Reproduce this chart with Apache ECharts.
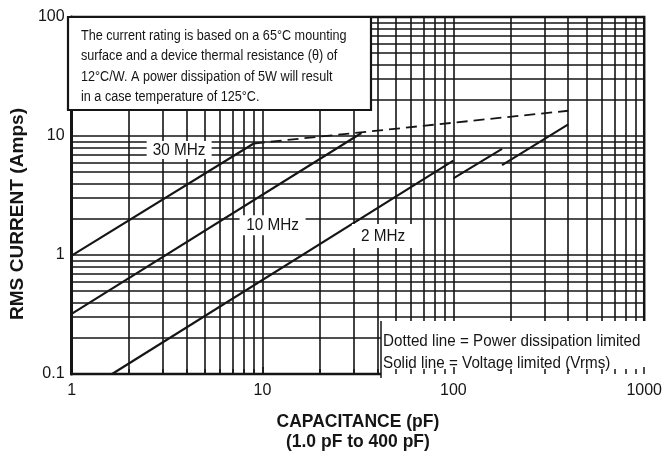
<!DOCTYPE html>
<html>
<head>
<meta charset="utf-8">
<script src="https://cdn.jsdelivr.net/npm/echarts@6/dist/echarts.min.js"></script>
<style>html,body{margin:0;padding:0;background:#fff;}#c{width:665px;height:457px;}</style>
</head>
<body>
<div id="c"></div>
<script>
// ---- data ----
const xRange = [1, 1000];          // capacitance, pF
const yRange = [0.1, 100];         // RMS current, A
const mhz30 = [[1, 0.99], [9, 8.65]];
const powerLimit = [[9, 8.65], [400, 16.3]];
const mhz10 = [[1, 0.32], [33, 10.6]];
const mhz2a = [[1.63, 0.1], [100, 6.2]];
const mhz2b = [[100, 4.4], [180, 7.8]];
const mhz2c = [[180, 5.7], [400, 12.5]];
const curveLabelNames = ['30 MHz', '10 MHz', '2 MHz'];
const curveLabelAt = [[3.66, 7.64], [11.3, 1.78], [42.8, 1.445]];
const noteText = 'The current rating is based on a 65°C mounting\nsurface and a device thermal resistance (θ) of\n12°C/W. A power dissipation of 5W will result\nin a case temperature of 125°C.';
const legendLines = 'Dotted line = Power dissipation limited\nSolid line = Voltage limited (Vrms)';
const xName = 'CAPACITANCE (pF)\n(1.0 pF to 400 pF)';
const yName = 'RMS CURRENT (Amps)';

const FONT = "'Liberation Sans', Arial, sans-serif";
const INK = '#151515';

const chart = echarts.init(document.getElementById('c'), null, { renderer: 'canvas' });

function lineSeries(data, dashed) {
  return {
    type: 'line', data: data, symbol: 'none', z: 3,
    lineStyle: { color: INK, width: dashed ? 1.8 : 2.1, type: dashed ? [11, 6] : 'solid' },
    silent: true, animation: false
  };
}

const option = {
  animation: false,
  backgroundColor: '#fff',
  grid: { left: 68, right: 14, top: 17, bottom: 79, show: true, borderColor: INK, borderWidth: 2.5, containLabel: false },
  xAxis: [{
    type: 'log', logBase: 10, min: xRange[0], max: xRange[1],
    name: xName, nameLocation: 'middle', nameGap: 38,
    nameTextStyle: { fontFamily: FONT, fontWeight: 'bold', fontSize: 17.5, color: INK, lineHeight: 20 },
    axisLine: { show: true, lineStyle: { color: INK, width: 2 } },
    axisTick: { show: false },
    axisLabel: { fontFamily: FONT, fontSize: 16, color: INK, margin: 9, formatter: function (v) { return String(v); } },
    splitLine: { show: true, lineStyle: { color: INK, width: 1.6 } },
    minorTick: { show: false, splitNumber: 9 },
    minorSplitLine: { show: true, lineStyle: { color: INK, width: 1.6 } }
  }, {
    type: 'log', logBase: 10, min: xRange[0], max: xRange[1], position: 'bottom', z: 10,
    axisLine: { show: false },
    axisTick: { show: true, inside: true, length: 7, lineStyle: { color: INK, width: 1.5 } },
    minorTick: { show: true, splitNumber: 9, length: 5, lineStyle: { color: INK, width: 1.5 } },
    axisLabel: { show: false }, splitLine: { show: false }
  }],
  yAxis: [{
    type: 'log', logBase: 10, min: yRange[0], max: yRange[1],
    name: yName, nameLocation: 'middle', nameGap: 36, nameRotate: 90,
    nameTextStyle: { fontFamily: FONT, fontWeight: 'bold', fontSize: 19.1, color: INK, padding: [0, 37, 0, 0] },
    axisLine: { show: true, lineStyle: { color: INK, width: 3 } },
    axisTick: { show: false },
    axisLabel: { fontFamily: FONT, fontSize: 16, color: INK, margin: 7 },
    splitLine: { show: true, lineStyle: { color: INK, width: 1.6 } },
    minorTick: { show: false, splitNumber: 9 },
    minorSplitLine: { show: true, lineStyle: { color: INK, width: 1.6 } }
  }],
  series: [
    lineSeries(mhz30, false),
    lineSeries(powerLimit, true),
    lineSeries(mhz10, false),
    lineSeries(mhz2a, false),
    lineSeries(mhz2b, false),
    lineSeries(mhz2c, false)
  ]
};
chart.setOption(option);

// annotation boxes (pixel layout) and curve labels placed through the axes' scales
const labelBox = [[65, 18], [66, 20], [62, 24]];
const graphics = [
  { type: 'rect', z: 5, shape: { x: 68, y: 17, width: 303, height: 93 },
    style: { fill: '#fff', stroke: INK, lineWidth: 2.2 } },
  { type: 'text', z: 6, x: 81, y: 25, scaleX: 0.815,
    style: { text: noteText, font: '15.5px ' + FONT, lineHeight: 20.5, fill: INK } },
  { type: 'rect', z: 5, shape: { x: 381, y: 321, width: 270, height: 56 },
    style: { fill: '#fff' } },
  { type: 'line', z: 5, shape: { x1: 381, y1: 321, x2: 381, y2: 378 },
    style: { stroke: INK, lineWidth: 1.5 } },
  { type: 'text', z: 6, x: 383, y: 331, scaleX: 0.895,
    style: { text: legendLines, font: '17px ' + FONT, lineHeight: 21.5, fill: INK } }
];
curveLabelNames.forEach(function (name, i) {
  const p = chart.convertToPixel({ gridIndex: 0 }, curveLabelAt[i]);
  const w = labelBox[i][0], h = labelBox[i][1];
  graphics.push({ type: 'rect', z: 5, shape: { x: p[0] - w / 2, y: p[1] - h / 2, width: w, height: h }, style: { fill: '#fff' } });
  graphics.push({ type: 'text', z: 6, x: p[0], y: p[1], scaleX: 0.9,
    style: { text: name, font: '17px ' + FONT, fill: INK, textAlign: 'center', textVerticalAlign: 'middle' } });
});
chart.setOption({ graphic: graphics });
</script>
</body>
</html>
